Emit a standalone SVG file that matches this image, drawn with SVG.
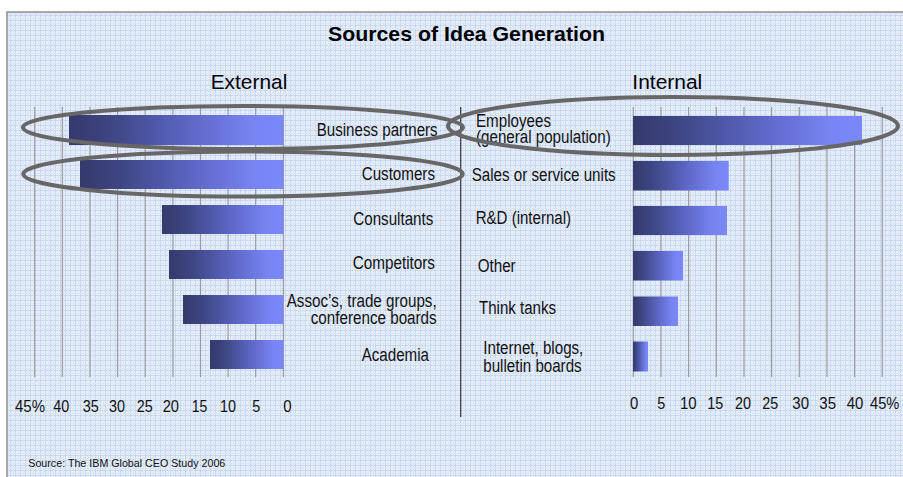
<svg xmlns="http://www.w3.org/2000/svg" width="903" height="477" viewBox="0 0 903 477">
<defs>
<pattern id="plaid" width="5" height="5" patternUnits="userSpaceOnUse">
<rect width="5" height="5" fill="#e9f0fb"/>
<rect x="0" y="0" width="1" height="5" fill="#c6d6f1"/>
<rect x="0" y="0" width="5" height="1" fill="#c6d6f1"/>
<rect x="3" y="0" width="1" height="5" fill="#dbe6f7"/>
<rect x="0" y="3" width="5" height="1" fill="#dbe6f7"/>
</pattern>
<linearGradient id="bar" x1="0" y1="0" x2="1" y2="0">
<stop offset="0" stop-color="#353a6c"/>
<stop offset="0.18" stop-color="#3d4480"/>
<stop offset="0.55" stop-color="#5b66c4"/>
<stop offset="0.86" stop-color="#7884f3"/>
<stop offset="1" stop-color="#7b88f8"/>
</linearGradient>
<style>
.grid{stroke:#9c9c9c;stroke-width:1.2}
.bar{fill:url(#bar)}
.lbl{font-family:"Liberation Sans",Arial,sans-serif;font-size:18px;fill:#111}
.num{font-family:"Liberation Sans",Arial,sans-serif;font-size:16.5px;fill:#111}
.hdr{font-family:"Liberation Sans",Arial,sans-serif;font-size:20.5px;fill:#000}
.ring{fill:none;stroke:#676767;stroke-width:4}
</style>
</defs>
<rect width="903" height="477" fill="#ffffff"/>
<rect x="7" y="12" width="900" height="470" fill="url(#plaid)" stroke="#8f8f8f" stroke-width="1.5"/>

<text x="328" y="41" font-family="Liberation Sans,Arial,sans-serif" font-weight="bold" font-size="20.5" textLength="277" lengthAdjust="spacingAndGlyphs">Sources of Idea Generation</text>
<text class="hdr" x="210.7" y="89" textLength="76.6" lengthAdjust="spacingAndGlyphs">External</text>
<text class="hdr" x="632.3" y="89" textLength="70" lengthAdjust="spacingAndGlyphs">Internal</text>

<g id="gridlines">
<line class="grid" x1="34.7" y1="107" x2="34.7" y2="377"/>
<line class="grid" x1="62.3" y1="107" x2="62.3" y2="377"/>
<line class="grid" x1="90" y1="107" x2="90" y2="377"/>
<line class="grid" x1="117.6" y1="107" x2="117.6" y2="377"/>
<line class="grid" x1="145.2" y1="107" x2="145.2" y2="377"/>
<line class="grid" x1="172.9" y1="107" x2="172.9" y2="377"/>
<line class="grid" x1="200.5" y1="107" x2="200.5" y2="377"/>
<line class="grid" x1="228.1" y1="107" x2="228.1" y2="377"/>
<line class="grid" x1="255.7" y1="107" x2="255.7" y2="377"/>
<line class="grid" x1="283.4" y1="107" x2="283.4" y2="377"/>
<line class="grid" x1="633.3" y1="107" x2="633.3" y2="377"/>
<line class="grid" x1="661" y1="107" x2="661" y2="377"/>
<line class="grid" x1="688.6" y1="107" x2="688.6" y2="377"/>
<line class="grid" x1="716.3" y1="107" x2="716.3" y2="377"/>
<line class="grid" x1="744" y1="107" x2="744" y2="377"/>
<line class="grid" x1="771.6" y1="107" x2="771.6" y2="377"/>
<line class="grid" x1="799.3" y1="107" x2="799.3" y2="377"/>
<line class="grid" x1="827" y1="107" x2="827" y2="377"/>
<line class="grid" x1="854.6" y1="107" x2="854.6" y2="377"/>
<line class="grid" x1="882.3" y1="107" x2="882.3" y2="377"/>
</g>
<line id="divider" x1="460.7" y1="107" x2="460.7" y2="417" stroke="#333" stroke-width="1.2"/>

<g id="ext-business-partners">
<rect class="bar" x="69" y="115" width="214.5" height="30"/>
<text class="lbl" x="316.7" y="136" textLength="121" lengthAdjust="spacingAndGlyphs">Business partners</text>
</g>
<g id="ext-customers">
<rect class="bar" x="80" y="160" width="203.5" height="29"/>
<text class="lbl" x="361.7" y="179.5" textLength="73.3" lengthAdjust="spacingAndGlyphs">Customers</text>
</g>
<g id="ext-consultants">
<rect class="bar" x="162" y="205" width="121.5" height="29"/>
<text class="lbl" x="353.3" y="224.5" textLength="80" lengthAdjust="spacingAndGlyphs">Consultants</text>
</g>
<g id="ext-competitors">
<rect class="bar" x="169" y="250" width="114.5" height="29"/>
<text class="lbl" x="352.7" y="268.5" textLength="82.3" lengthAdjust="spacingAndGlyphs">Competitors</text>
</g>
<g id="ext-assocs">
<rect class="bar" x="183" y="295" width="100.5" height="29"/>
<text class="lbl" x="286.7" y="306.7" textLength="150" lengthAdjust="spacingAndGlyphs">Assoc’s, trade groups,</text>
<text class="lbl" x="310.7" y="324" textLength="126" lengthAdjust="spacingAndGlyphs">conference boards</text>
</g>
<g id="ext-academia">
<rect class="bar" x="210" y="340" width="73.5" height="29"/>
<text class="lbl" x="361.7" y="360.7" textLength="67.3" lengthAdjust="spacingAndGlyphs">Academia</text>
</g>

<g id="int-employees">
<rect class="bar" x="633" y="116" width="229" height="29"/>
<text class="lbl" x="476" y="126.7" textLength="75" lengthAdjust="spacingAndGlyphs">Employees</text>
<text class="lbl" x="476" y="143.3" textLength="134.7" lengthAdjust="spacingAndGlyphs">(general population)</text>
</g>
<g id="int-sales">
<rect class="bar" x="633" y="161" width="95.7" height="29.5"/>
<text class="lbl" x="471.7" y="181" textLength="144" lengthAdjust="spacingAndGlyphs">Sales or service units</text>
</g>
<g id="int-rd">
<rect class="bar" x="633" y="206" width="94" height="29"/>
<text class="lbl" x="475.7" y="224" textLength="95.3" lengthAdjust="spacingAndGlyphs">R&amp;D (internal)</text>
</g>
<g id="int-other">
<rect class="bar" x="633" y="251" width="50" height="29.5"/>
<text class="lbl" x="477.7" y="272.3" textLength="38" lengthAdjust="spacingAndGlyphs">Other</text>
</g>
<g id="int-think-tanks">
<rect class="bar" x="633" y="296.5" width="45" height="29.5"/>
<text class="lbl" x="479" y="314" textLength="77" lengthAdjust="spacingAndGlyphs">Think tanks</text>
</g>
<g id="int-internet">
<rect class="bar" x="633" y="341.5" width="15" height="30"/>
<text class="lbl" x="483.3" y="354.3" textLength="100" lengthAdjust="spacingAndGlyphs">Internet, blogs,</text>
<text class="lbl" x="483.3" y="371.7" textLength="98.3" lengthAdjust="spacingAndGlyphs">bulletin boards</text>
</g>

<g id="axis-left">
<text class="num" x="15" y="411.7" textLength="30" lengthAdjust="spacingAndGlyphs">45%</text>
<text class="num" x="53.3" y="411.7" textLength="16" lengthAdjust="spacingAndGlyphs">40</text>
<text class="num" x="82.7" y="411.7" textLength="16" lengthAdjust="spacingAndGlyphs">35</text>
<text class="num" x="109" y="411.7" textLength="16" lengthAdjust="spacingAndGlyphs">30</text>
<text class="num" x="136.7" y="411.7" textLength="16" lengthAdjust="spacingAndGlyphs">25</text>
<text class="num" x="162.7" y="411.7" textLength="16.3" lengthAdjust="spacingAndGlyphs">20</text>
<text class="num" x="191.7" y="411.7" textLength="15.6" lengthAdjust="spacingAndGlyphs">15</text>
<text class="num" x="220" y="411.7" textLength="16" lengthAdjust="spacingAndGlyphs">10</text>
<text class="num" x="252.3" y="411.7" textLength="8" lengthAdjust="spacingAndGlyphs">5</text>
<text class="num" x="283.3" y="411.7" textLength="8.4" lengthAdjust="spacingAndGlyphs">0</text>
</g>
<g id="axis-right">
<text class="num" x="630" y="409" textLength="8.3" lengthAdjust="spacingAndGlyphs">0</text>
<text class="num" x="657.3" y="409" textLength="8" lengthAdjust="spacingAndGlyphs">5</text>
<text class="num" x="680" y="409" textLength="16.7" lengthAdjust="spacingAndGlyphs">10</text>
<text class="num" x="707.3" y="409" textLength="16" lengthAdjust="spacingAndGlyphs">15</text>
<text class="num" x="735" y="409" textLength="16" lengthAdjust="spacingAndGlyphs">20</text>
<text class="num" x="762.3" y="409" textLength="16" lengthAdjust="spacingAndGlyphs">25</text>
<text class="num" x="792.3" y="409" textLength="16.7" lengthAdjust="spacingAndGlyphs">30</text>
<text class="num" x="819.3" y="409" textLength="16.7" lengthAdjust="spacingAndGlyphs">35</text>
<text class="num" x="846.7" y="409" textLength="16.6" lengthAdjust="spacingAndGlyphs">40</text>
<text class="num" x="870" y="409" textLength="29.3" lengthAdjust="spacingAndGlyphs">45%</text>
</g>

<g id="highlights">
<ellipse class="ring" cx="243" cy="127.5" rx="220" ry="21.5"/>
<ellipse class="ring" cx="243" cy="174" rx="219.7" ry="22.5"/>
<ellipse class="ring" cx="673" cy="126" rx="225" ry="29"/>
</g>

<text x="28.3" y="467.3" font-family="Liberation Sans,Arial,sans-serif" font-size="10.5" fill="#111" textLength="197" lengthAdjust="spacingAndGlyphs">Source: The IBM Global CEO Study 2006</text>
</svg>
